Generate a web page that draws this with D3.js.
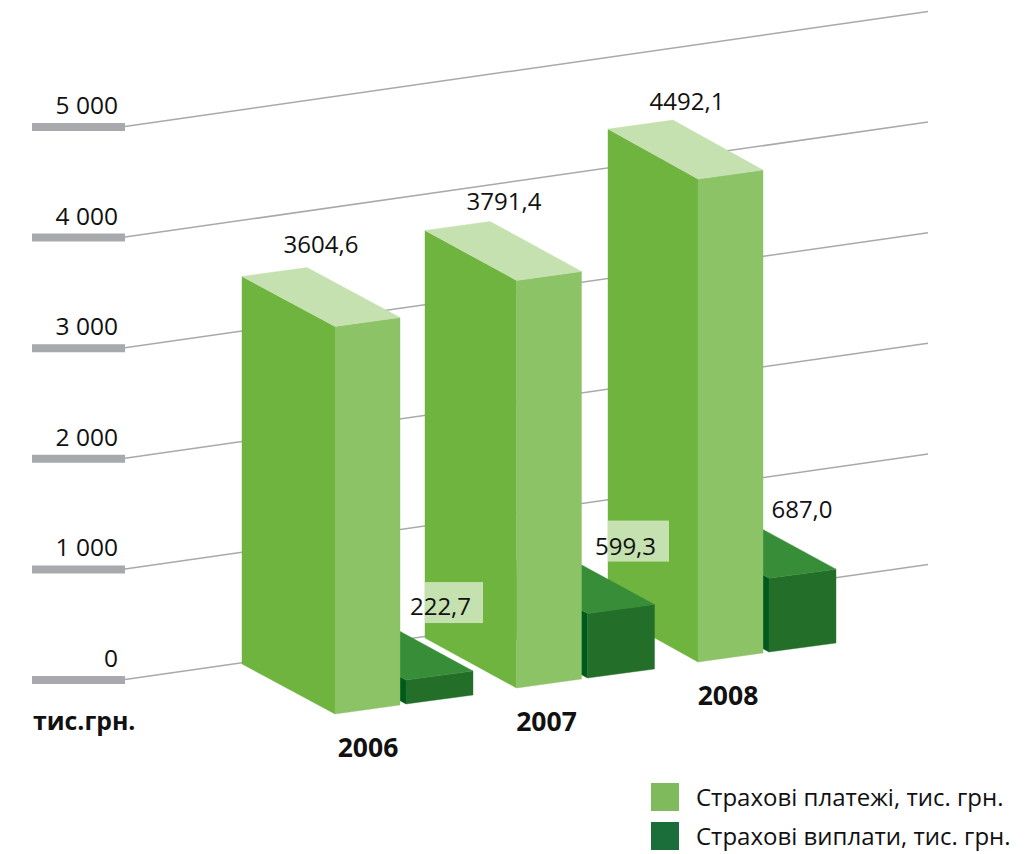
<!DOCTYPE html>
<html>
<head>
<meta charset="utf-8">
<script src="https://cdn.jsdelivr.net/npm/d3@7"></script>
<style>
  html, body { margin: 0; padding: 0; background: #fff; }
  text { font-family: "Open Sans", "Noto Sans", sans-serif; fill: #111; }
</style>
</head>
<body>
<div class="vis"></div>
<script>
// Data
var years = ["2006", "2007", "2008"];
var payments = [3604.6, 3791.4, 4492.1];
var payouts = [222.7, 599.3, 687.0];
var axisTicks = [0, 1000, 2000, 3000, 4000, 5000];
var legendLabels = ["Страхові платежі, тис. грн.", "Страхові виплати, тис. грн."];

var width = 1029, height = 854;

var svg = d3.select(".vis")
  .append("svg")
  .attr("width", width)
  .attr("height", height)
  .style("display", "block");

// Ukrainian number style: space for thousands, comma for decimals
var uk = d3.formatLocale({decimal: ",", thousands: " ", grouping: [3], currency: ["", ""]});
var fmtTick = uk.format(",d");
var fmtValue = uk.format(".1f");

// Scales
var yAxisScale = d3.scaleLinear().domain([0, 5000]).range([679.5, 126.5]);
var barHeight = d3.scaleLinear().domain([0, 5000]).range([0, 537.5]);
// front bottom corner of the big bar for each year, running along the floor
var cornerX = d3.scalePoint().domain(years).range([335, 698]);
var cornerY = d3.scalePoint().domain(years).range([714, 662]);
// the bars get a little shallower to the right
var depthX = d3.scalePoint().domain(years).range([-93, -90]);

// Projection vectors of the fake 3d boxes
var depthY = -50;
var bigFront = {x: 65, y: -9};
var smallFront = {x: 67, y: -9};
var smallOffset = {x: 71, y: -10};
var gridRun = {x: 803, y: -115};

// Grid lines running back from the axis
svg.append("g").selectAll("line")
  .data(axisTicks)
  .enter()
  .append("line")
    .attr("x1", 125)
    .attr("y1", function(d) { return yAxisScale(d); })
    .attr("x2", 125 + gridRun.x)
    .attr("y2", function(d) { return yAxisScale(d) + gridRun.y; })
    .style("stroke", "#a7a9ac")
    .style("stroke-width", 1.5);

// Axis: thick grey ticks with the label sitting on top of them
var axis = d3.axisLeft(yAxisScale)
  .tickValues(axisTicks)
  .tickSize(93)
  .tickFormat(fmtTick);

var axisG = svg.append("g")
  .attr("transform", "translate(125,0)")
  .call(axis);
axisG.select(".domain").remove();
axisG.selectAll("line").style("stroke", "#a7a9ac").style("stroke-width", 8);
axisG.selectAll("text")
  .attr("x", -7)
  .attr("dy", "-13")
  .style("font-size", "24.5px")
  .style("font-family", "'Open Sans', sans-serif")
  .attr("text-anchor", "end");

function pts(list) {
  return list.map(function(p) { return p[0] + "," + p[1]; }).join(" ");
}

// One box: left side, front side, top
function drawBox(g, bx, by, h, front, dx, colors) {
  var top = by - h;
  var faces = [
    {c: colors.side, p: [[bx, by], [bx + dx, by + depthY], [bx + dx, top + depthY], [bx, top]]},
    {c: colors.front, p: [[bx, by], [bx + front.x, by + front.y], [bx + front.x, top + front.y], [bx, top]]},
    {c: colors.top, p: [[bx, top], [bx + front.x, top + front.y],
      [bx + front.x + dx, top + front.y + depthY], [bx + dx, top + depthY]]}
  ];
  faces.forEach(function(f) {
    g.append("polygon")
      .attr("points", pts(f.p))
      .style("fill", f.c)
      .style("stroke", f.c)
      .style("stroke-width", 0.4);
  });
}

var bigColors = {side: "#6eb43f", front: "#8cc366", top: "#c5e1b0"};
var smallColors = {side: "#005a1e", front: "#236f2a", top: "#388e38"};

// Paint back to front so the big bar hides the back of its small bar
var bars = svg.append("g");
d3.range(years.length - 1, -1, -1).forEach(function(i) {
  var yr = years[i];
  drawBox(bars, cornerX(yr) + smallOffset.x, cornerY(yr) + smallOffset.y,
    barHeight(payouts[i]), smallFront, -92, smallColors);
  drawBox(bars, cornerX(yr), cornerY(yr), barHeight(payments[i]), bigFront, depthX(yr), bigColors);
});

// Pale patches behind the small labels, they start at the next big bar's left edge
var patchWidth = [58, 61];
var patchDy = [-98, -93];
svg.append("g").selectAll("rect")
  .data(patchWidth)
  .enter()
  .append("rect")
    .attr("x", function(d, i) { return cornerX(years[i + 1]) + depthX(years[i + 1]); })
    .attr("y", function(d, i) { return cornerY(years[i]) + smallOffset.y - barHeight(payouts[i]) + patchDy[i]; })
    .attr("width", function(d) { return d; })
    .attr("height", 41)
    .style("fill", "#c5e1b0");

// Value labels on the big bars
var bigLabelDy = [-15, -11.4, -10.5];
svg.append("g").selectAll("text")
  .data(payments)
  .enter()
  .append("text")
    .attr("x", function(d, i) { return cornerX(years[i]) + depthX(years[i]) + 79; })
    .attr("y", function(d, i) { return cornerY(years[i]) + depthY + bigFront.y - barHeight(d) + bigLabelDy[i]; })
    .attr("text-anchor", "middle")
    .style("font-size", "24px")
    .text(fmtValue);

// Value labels on the small bars
var smallLabelDx = [34.5, 38, 33];
var smallLabelDy = [-65, -59, -60];
svg.append("g").selectAll("text")
  .data(payouts)
  .enter()
  .append("text")
    .attr("x", function(d, i) { return cornerX(years[i]) + smallOffset.x + smallLabelDx[i]; })
    .attr("y", function(d, i) { return cornerY(years[i]) + smallOffset.y - barHeight(d) + smallLabelDy[i]; })
    .attr("text-anchor", "middle")
    .style("font-size", "24px")
    .text(fmtValue);

// Year labels
var yearDx = [33, 30, 30];
svg.append("g").selectAll("text")
  .data(years)
  .enter()
  .append("text")
    .attr("x", function(d, i) { return cornerX(d) + yearDx[i]; })
    .attr("y", function(d) { return cornerY(d) + 43; })
    .attr("text-anchor", "middle")
    .style("font-size", "26.5px")
    .style("font-weight", "bold")
    .text(function(d) { return d; });

// Unit label
svg.append("text")
  .attr("x", 33)
  .attr("y", 730)
  .style("font-size", "24.8px")
  .style("font-weight", "bold")
  .text("тис.грн.");

// Legend
var legendColors = ["#7fba5c", "#1b6d3a"];
var legend = svg.append("g").selectAll("g")
  .data(legendLabels)
  .enter()
  .append("g")
    .attr("transform", function(d, i) { return "translate(651," + (783 + i * 39) + ")"; });
legend.append("rect")
  .attr("width", 28)
  .attr("height", 28)
  .style("fill", function(d, i) { return legendColors[i]; });
legend.append("text")
  .attr("x", 45)
  .attr("y", 23)
  .style("font-size", "24px")
  .text(function(d) { return d; });
</script>
</body>
</html>
